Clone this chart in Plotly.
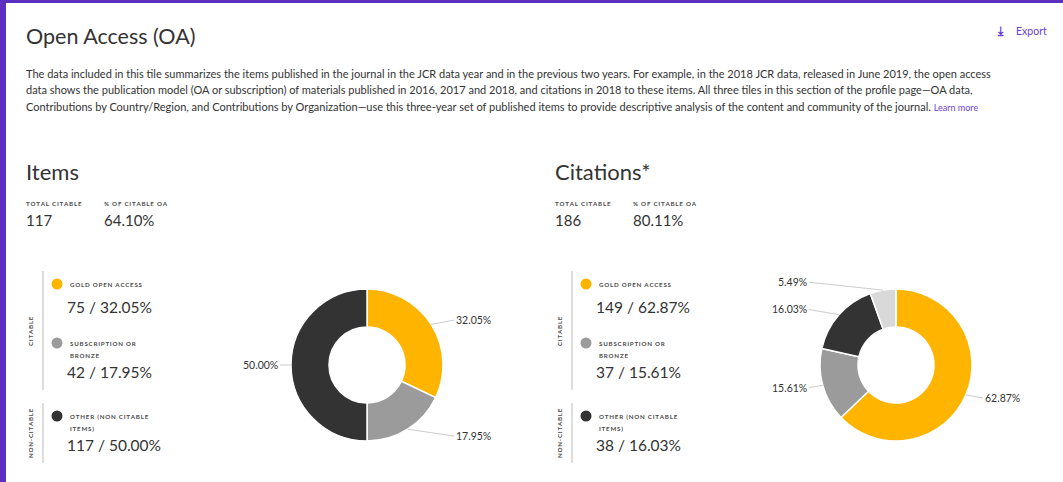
import math
import plotly.graph_objects as go

W, H = 1063, 482

# ---------------- data ----------------
title = "Open Access (OA)"
paragraph = [
    "The data included in this tile summarizes the items published in the journal in the JCR data year and in the previous two years. For example, in the 2018 JCR data, released in June 2019, the open access",
    "data shows the publication model (OA or subscription) of materials published in 2016, 2017 and 2018, and citations in 2018 to these items. All three tiles in this section of the profile page\u2014OA data,",
    "Contributions by Country/Region, and Contributions by Organization\u2014use this three-year set of published items to provide descriptive analysis of the content and community of the journal. ",
]
link_text = "Learn more"

legend_labels = [["GOLD OPEN ACCESS"], ["SUBSCRIPTION OR", "BRONZE"], ["OTHER (NON CITABLE", "ITEMS)"]]

items_total_citable = "117"
items_pct_citable_oa = "64.10%"
items_counts = [75, 42, 117]
items_pct = [32.05, 17.95, 50.00]

cit_total_citable = "186"
cit_pct_citable_oa = "80.11%"
cit_counts = [149, 37, 38]
cit_pct = [62.87, 15.61, 16.03, 5.49]

colors = ["#FFB400", "#9B9B9B", "#333333", "#D9D9D9"]

PURPLE = "#5B30C0"
LINK = "#6A3FD0"
TEXT = "#333333"
FONT = "Lato"


def px(x):
    return x / W


def py(y):
    return 1 - y / H


def spaced(s):
    return "\u2009".join(s)


fig = go.Figure()
annotations = []
shapes = []


def text(x, y, s, size, color=TEXT, anchor="left", weight=None, angle=0, family=FONT):
    f = dict(family=family, size=size, color=color)
    if weight:
        f["weight"] = weight
    annotations.append(dict(x=px(x), y=py(y), xref="paper", yref="paper", text=s,
                            showarrow=False, xanchor=anchor, yanchor="middle",
                            font=f, textangle=angle, borderpad=0))


# purple frame
shapes.append(dict(type="rect", xref="paper", yref="paper", x0=0, x1=px(6), y0=0, y1=1,
                   fillcolor=PURPLE, line=dict(width=0), layer="above"))
shapes.append(dict(type="rect", xref="paper", yref="paper", x0=0, x1=1, y0=py(3), y1=1,
                   fillcolor=PURPLE, line=dict(width=0), layer="above"))

# header
text(25, 36, title, 21.5)
text(1000, 31, "\u2913", 12, color=LINK, anchor="center", family="DejaVu Sans", weight="bold")
text(1015, 31, "Export", 10.5, color=LINK)
line_y = [73, 89.5, 106]
for i, ln in enumerate(paragraph):
    s = ln
    if i == len(paragraph) - 1:
        s = ln + '<span style="color:' + LINK + ';font-size:9px">' + link_text + "</span>"
    text(25, line_y[i], s, 11.0)

SMALL = 6.2
SMALLC = "#4A4A4A"


def panel(dx, name, total, pctoa, counts, pcts, cx, cy):
    text(25 + dx, 171, name, 22)
    text(25 + dx, 203, spaced("TOTAL CITABLE"), SMALL, color=SMALLC, weight="bold")
    text(103 + dx, 203, spaced("% OF CITABLE OA"), SMALL, color=SMALLC, weight="bold")
    text(25 + dx, 220, total, 15)
    text(103 + dx, 220, pctoa, 15)

    # group rules
    for y0, y1 in [(271, 390), (403, 463)]:
        shapes.append(dict(type="line", xref="paper", yref="paper", x0=px(43 + dx), x1=px(43 + dx),
                           y0=py(y0), y1=py(y1), line=dict(color="#DDDDDD", width=2)))
    text(30 + dx, 331, spaced("CITABLE"), SMALL, color=SMALLC, weight="bold", anchor="center", angle=-90)
    text(30 + dx, 433, spaced("NON-CITABLE"), SMALL, color=SMALLC, weight="bold", anchor="center", angle=-90)

    dot_y = [284, 343, 416]
    num_y = [307, 372, 445]
    for i in range(3):
        r = 5.5
        shapes.append(dict(type="circle", xref="paper", yref="paper",
                           x0=px(57 + dx - r), x1=px(57 + dx + r), y0=py(dot_y[i] + r), y1=py(dot_y[i] - r),
                           fillcolor=colors[i], line=dict(width=0)))
        for j, lab in enumerate(legend_labels[i]):
            text(69 + dx, dot_y[i] + 12 * j, spaced(lab), SMALL, color=SMALLC, weight="bold")
        text(66 + dx, num_y[i], f"{counts[i]} / {pcts[i]:.2f}%", 15.5)

    # donut
    R = 76
    fig.add_trace(go.Pie(
        values=pcts, sort=False, direction="clockwise", rotation=0, hole=0.5,
        marker=dict(colors=colors[:len(pcts)], line=dict(color="white", width=1.5)),
        textinfo="none", hoverinfo="skip", showlegend=False,
        domain=dict(x=[px(cx - R), px(cx + R)], y=[py(cy + R), py(cy - R)]),
    ))
    total_v = sum(pcts)
    cum = 0
    for v in pcts:
        mid = (cum + v / 2) / total_v * 2 * math.pi
        cum += v
        sx, cyy = math.sin(mid), math.cos(mid)
        ex, ey = cx + R * sx, cy - R * cyy
        ly = cy - 84 * cyy
        side = 1 if sx >= 0 else -1
        lx = cx + side * 87
        annotations.append(dict(
            x=px(ex), y=py(ey), xref="paper", yref="paper",
            ax=lx - ex, ay=ly - ey, axref="pixel", ayref="pixel",
            text=f"{v:.2f}%", showarrow=True, arrowhead=0, arrowwidth=1, arrowcolor="#CCCCCC",
            standoff=0, startstandoff=0,
            xanchor="left" if side > 0 else "right", yanchor="middle", borderpad=1,
            font=dict(family=FONT, size=10.5, color=TEXT),
        ))


panel(0, "Items", items_total_citable, items_pct_citable_oa, items_counts, items_pct, 367, 365)
panel(529, "Citations*", cit_total_citable, cit_pct_citable_oa, cit_counts, cit_pct, 896, 365)

fig.update_layout(
    width=W, height=H, autosize=False,
    margin=dict(l=0, r=0, t=0, b=0),
    paper_bgcolor="white", plot_bgcolor="white",
    xaxis=dict(visible=False), yaxis=dict(visible=False),
    annotations=annotations, shapes=shapes,
    font=dict(family=FONT, color=TEXT),
)

fig.write_html("out.html", config=dict(displayModeBar=False, staticPlot=True),
               post_script="document.body.style.margin='0';document.body.style.overflow='hidden';")
